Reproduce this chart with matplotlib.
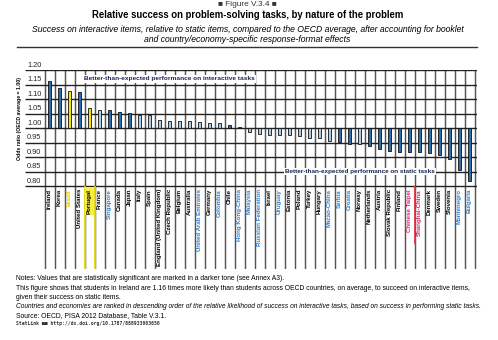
import numpy as np
import matplotlib
matplotlib.use('Agg')
from matplotlib import pyplot as plt

countries = ['Ireland', 'Korea', 'Brazil', 'United States', 'Portugal', 'France', 'Singapore',
             'Canada', 'Japan', 'Italy', 'Spain', 'England (United Kingdom)', 'Czech Republic',
             'Belgium', 'Australia', 'United Arab Emirates', 'Germany', 'Colombia', 'Chile',
             'Hong Kong-China', 'Malaysia', 'Russian Federation', 'Israel', 'Uruguay', 'Estonia',
             'Poland', 'Turkey', 'Hungary', 'Macao-China', 'Serbia', 'Croatia', 'Norway',
             'Netherlands', 'Austria', 'Slovak Republic', 'Finland', 'Chinese Taipei',
             'Shanghai-China', 'Denmark', 'Sweden', 'Slovenia', 'Montenegro', 'Bulgaria']
odds = [1.163, 1.138, 1.129, 1.125, 1.069, 1.061, 1.062, 1.055, 1.053, 1.046, 1.046, 1.029,
        1.025, 1.024, 1.023, 1.021, 1.018, 1.017, 1.009, 1.005, 0.986, 0.980, 0.976, 0.976,
        0.976, 0.971, 0.966, 0.966, 0.954, 0.952, 0.945, 0.945, 0.937, 0.928, 0.922, 0.917,
        0.917, 0.917, 0.914, 0.907, 0.893, 0.854, 0.817]
significant = [1, 1, 1, 1, 0, 0, 1, 1, 1, 0, 0, 0, 0, 0, 0, 0, 0, 0, 1, 1, 0, 0, 0, 0, 0, 0,
               0, 0, 0, 1, 1, 0, 1, 1, 1, 1, 1, 1, 1, 1, 1, 1, 1]
partners = ['Brazil', 'Singapore', 'United Arab Emirates', 'Colombia', 'Hong Kong-China',
            'Malaysia', 'Russian Federation', 'Uruguay', 'Macao-China', 'Serbia', 'Croatia',
            'Chinese Taipei', 'Shanghai-China', 'Montenegro', 'Bulgaria']
yticks = [0.80, 0.85, 0.90, 0.95, 1.00, 1.05, 1.10, 1.15, 1.20]

DARK = '#2c6fae'
LIGHT = '#a9cde9'
YELLOW = '#f5e400'
PARTNER = '#2a7fd0'
FONT = 'Liberation Sans'

W, H = 498, 340
fig = plt.figure(figsize=(W / 100, H / 100), dpi=100)
fig.patch.set_facecolor('white')
renderer = fig.canvas.get_renderer()


def fit(t, size_px, along='w'):
    # shrink/grow a text so its extent matches the width seen in the reference
    bb = t.get_window_extent(renderer)
    cur = bb.width if along == 'w' else bb.height
    t.set_fontsize(t.get_fontsize() * size_px / cur)
    return t


# axes spans the gridded area incl. the label strip under 0.80
x0, x1 = 25, 477
ytop, ybot = 70, 269
ax = fig.add_axes([x0 / W, 1 - ybot / H, (x1 - x0) / W, (ybot - ytop) / H])
xlo, xhi = -2.45, 42.75
ppu = (186 - 70) / 0.40  # pixels per unit of odds ratio
ylo = 0.80 - (ybot - 186) / ppu
ax.set_xlim(xlo, xhi)
ax.set_ylim(ylo, 1.20)
ax.axis('off')

n = len(countries)
x = np.arange(n)

bounds = np.arange(n + 1) - 0.5
ax.vlines(bounds, ylo, 1.20, color='#555555', lw=1.05, zorder=1)
ax.hlines(yticks, xlo, xhi, color='#222222', lw=1.0, zorder=1)
for v in yticks:
    ax.text(-2.25, v + 0.004, '%.2f' % v, ha='left', va='bottom', fontsize=5.3,
            color='#222222', family=FONT, zorder=3)

colors = []
for c, s in zip(countries, significant):
    if c in ('Brazil', 'Portugal'):
        colors.append(YELLOW)
    else:
        colors.append(DARK if s else LIGHT)
heights = [v - 1.0 for v in odds]
ax.bar(x, heights, bottom=1.0, width=0.36, color=colors, edgecolor='#111111', lw=0.6, zorder=4)

pi = countries.index('Portugal')
ax.vlines([pi - 0.5, pi + 0.5], ylo, 0.80, color='#e8dc00', lw=1.2, zorder=2)
ti = countries.index('Chinese Taipei')
ax.vlines([ti + 0.5], 0.60, 0.80, color='#e8283c', lw=1.2, zorder=2)

for i, c in enumerate(countries):
    col = 'black'
    if c in partners:
        col = PARTNER
    if c == 'Brazil':
        col = '#e8c800'
    if c in ('Chinese Taipei', 'Shanghai-China'):
        col = '#e0206a'
    kw = {}
    if c == 'Portugal':
        kw['bbox'] = dict(boxstyle='square,pad=0.25', fc='#f8ee40', ec='none')
    ax.text(i, 0.79, c, rotation=90, ha='center', va='top', fontsize=4.4,
            fontweight='bold', color=col, family=FONT, zorder=3, **kw)

t = ax.text(12.0, 1.169, 'Better-than-expected performance on interactive tasks', ha='center',
            va='center', fontsize=5, fontweight='bold', color='#1b2550', family=FONT, zorder=5,
            bbox=dict(boxstyle='square,pad=0.2', fc='white', ec='none'))
fit(t, 170)
t = ax.text(31.05, 0.85, 'Better-than-expected performance on static tasks', ha='center',
            va='center', fontsize=5, fontweight='bold', color='#1b2550', family=FONT, zorder=5,
            bbox=dict(boxstyle='square,pad=0.2', fc='white', ec='none'))
fit(t, 152)

t = fig.text(19 / W, 1 - 119 / H, 'Odds ratio (OECD average = 1.00)', rotation=90, ha='center',
             va='center', fontsize=4, fontweight='bold', family=FONT)
fit(t, 82, 'h')

# titles
t = fig.text(0.497, 1 - 5 / H, '\u25a0 Figure V.3.4 \u25a0', ha='center', va='center', fontsize=5,
             color='#333333', family=FONT)
fit(t, 60)
t = fig.text(0.497, 1 - 15.5 / H, 'Relative success on problem-solving tasks, by nature of the problem',
             ha='center', va='center', fontsize=6, fontweight='bold', family=FONT)
fit(t, 319)
t = fig.text(0.497, 1 - 29 / H, 'Success on interactive items, relative to static items, compared to the '
             'OECD average, after accounting for booklet', ha='center', va='center', fontsize=5,
             style='italic', family=FONT)
fit(t, 437)
t2 = fig.text(0.497, 1 - 39 / H, 'and country/economy-specific response-format effects', ha='center',
              va='center', fontsize=t.get_fontsize(), style='italic', family=FONT)
fig.add_artist(plt.Line2D([17 / W, 477 / W], [1 - 47 / H, 1 - 47 / H], color='#333333', lw=1.0))

# notes
notes = [
    (279, 'Notes: Values that are statistically significant are marked in a darker tone (see Annex A3).', 'normal'),
    (288.5, 'This figure shows that students in Ireland are 1.16 times more likely than students across OECD '
            'countries, on average, to succeed on interactive items,', 'normal'),
    (297.5, 'given their success on static items.', 'normal'),
    (306.5, 'Countries and economies are ranked in descending order of the relative likelihood of success '
            'on interactive tasks, based on success in performing static tasks.', 'italic'),
    (315.5, 'Source: OECD, PISA 2012 Database, Table V.3.1.', 'normal'),
]
note_txt = []
for yy, s, st in notes:
    note_txt.append(fig.text(16 / W, 1 - yy / H, s, ha='left', va='center', fontsize=4.2,
                             style=st, family=FONT))
fit(note_txt[1], 459)
for tt in note_txt:
    tt.set_fontsize(note_txt[1].get_fontsize())
fit(note_txt[3], 462)
fig.text(16 / W, 1 - 323.5 / H, 'StatLink \u25a0\u25a0 http://dx.doi.org/10.1787/888933003650',
         ha='left', va='center', fontsize=3.4, family='DejaVu Sans Mono', fontweight='bold',
         color='#333333')

fig.savefig('out.png', dpi=100, facecolor='white')
